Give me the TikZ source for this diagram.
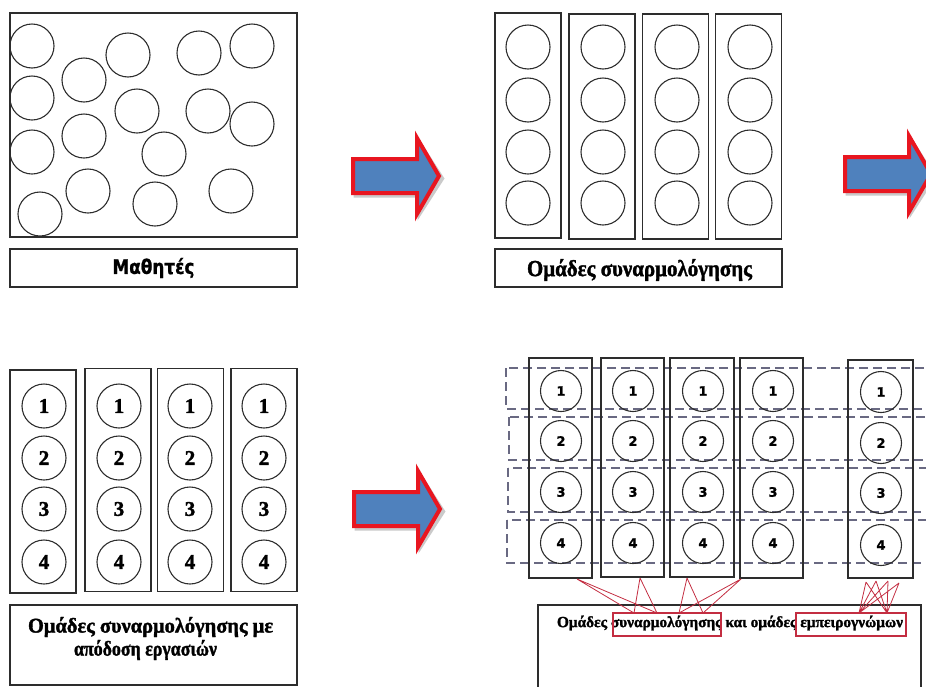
\documentclass[tikz,border=0pt]{standalone}
\usepackage{fontspec}
\usepackage{graphicx}
\newfontfamily\grsans{DejaVu Sans}[BoldFeatures={FakeBold=1.2}]
\newfontfamily\grserif{Liberation Serif}[BoldFeatures={FakeBold=1.6}]
\usetikzlibrary{calc}
\definecolor{linegray}{RGB}{45,45,45}
\definecolor{arrowred}{RGB}{232,22,32}
\definecolor{arrowblue}{RGB}{79,129,189}
\definecolor{dashblue}{RGB}{105,105,130}
\definecolor{linkred}{RGB}{195,45,65}
\begin{document}
\begin{tikzpicture}[x=1pt,y=-1pt,
  box/.style={draw=linegray, line width=1.3pt, inner sep=0pt},
  stud/.style={circle, draw=linegray, line width=1.1pt, minimum size=44pt, inner sep=0pt},
  smallstud/.style={circle, draw=linegray, line width=1.1pt, minimum size=41pt, inner sep=0pt},
  numserif/.style={font=\grserif\bfseries\fontsize{21}{21}\selectfont},
  numsans/.style={font=\grsans\bfseries\fontsize{13}{13}\selectfont},
  rowband/.style={draw=dashblue, line width=1.3pt, dash pattern=on 9pt off 5pt},
  link/.style={draw=linkred, line width=0.8pt},
  mark box/.style={draw=linkred, line width=1.1pt},
  bigarrow/.pic={
    \fill[black!35, opacity=0.6, shift={(2.5,2.5)}] (0,-19) -- (64,-19) -- (64,-42) -- (91,0) -- (64,42) -- (64,19) -- (0,19) -- cycle;
    \draw[draw=arrowred, fill=arrowblue, line width=4pt, line join=miter] (2,-17) -- (66,-17) -- (66,-38) -- (88,0) -- (66,38) -- (66,17) -- (2,17) -- cycle;
  }]
\useasboundingbox (0,0) rectangle (926,686);
\clip (0,0) rectangle (926,686);

% ---------- top-left panel ----------
\node[box, minimum width=287pt, minimum height=224pt] (tlbox) at (153.5,125) {};
\foreach \cx/\cy [count=\i] in {32/46,84/80,128/55,199/53,252/46,32/98,137/111,208/111,252/124,84/136,32/152,164/154,88/191,231/191,40/214,155/204}
  \node[stud] (tl\i) at (\cx,\cy) {};
\node[box, minimum width=287pt, minimum height=38pt] (tllabel) at (153.5,268) {};
\node (tltext) at (153.5,268) {\resizebox{82pt}{\height}{\grsans\bfseries\fontsize{20}{20}\selectfont Μαθητές}};

% ---------- arrows ----------
\pic (arrowA) at (351,176) {bigarrow};
\pic (arrowB) at (843,174) {bigarrow};
\pic (arrowC) at (352,509) {bigarrow};

% ---------- top-middle panel ----------
\foreach \cx/\cy/\j in {528/125.5/1,602/126.5/2,675.5/126.5/3,748.5/126.5/4}
  \node[box, minimum width=66pt, minimum height=225pt] (tmcol\j) at (\cx,\cy) {};
\foreach \cx [count=\j] in {528,603,677,750}
  \foreach \cy [count=\k] in {47,100,152,203}
    \node[stud] (tm\j-\k) at (\cx,\cy) {};
\node[box, minimum width=287pt, minimum height=38pt] (tmlabel) at (638.5,268) {};
\node (tmtext) at (639.5,270) {\resizebox{225pt}{\height}{\grserif\bfseries\fontsize{23}{23}\selectfont Ομάδες συναρμολόγησης}};

% ---------- bottom-left panel ----------
\foreach \cx/\cy/\j in {43/481.5/1,118/480/2,190.5/480/3,264/480/4}
  \node[box, minimum width=66pt, minimum height=223pt] (blcol\j) at (\cx,\cy) {};
\foreach \cx [count=\j] in {44,119,190,264}
  \foreach \cy [count=\k] in {406,458,509,562}
    \node[stud, numserif] (bl\j-\k) at (\cx,\cy) {\k};
\node[box, minimum width=287pt, minimum height=80pt] (bllabel) at (153.5,645) {};
\node (bltextA) at (150.5,627) {\resizebox{245pt}{\height}{\grserif\bfseries\fontsize{21}{21}\selectfont Ομάδες συναρμολόγησης με}};
\node (bltextB) at (145.5,650) {\resizebox{143pt}{\height}{\grserif\bfseries\fontsize{21}{21}\selectfont απόδοση εργασιών}};

% ---------- bottom-right panel ----------
\draw[rowband] (506,368) rectangle (940,409);
\draw[rowband] (509,417) rectangle (940,460);
\draw[rowband] (508,468) rectangle (940,512);
\draw[rowband] (507,520) rectangle (940,563);
\foreach \cx/\cy/\w/\h/\j in {560.5/468/63/220/1,632.5/467.5/63/219/2,702/467.5/64/219/3,771.5/468/63/220/4,880.5/469/65/218/5}
  \node[box, minimum width=\w pt, minimum height=\h pt] (brcol\j) at (\cx,\cy) {};
\foreach \cx [count=\j] in {561,633,703,773}
  \foreach \cy [count=\k] in {391,441,492,543}
    \node[smallstud, numsans] (br\j-\k) at (\cx,\cy) {\k};
\foreach \cy [count=\k] in {392,443,493,545}
  \node[smallstud, numsans] (br5-\k) at (881,\cy) {\k};

\draw[box] (538,700) -- (538,605) -- (921,605) -- (921,700);
\node (brtext) at (730,623) {\resizebox{346pt}{\height}{\grserif\bfseries\fontsize{15.5}{15.5}\selectfont Ομάδες συναρμολόγησης και ομάδες εμπειρογνώμων}};
\draw[mark box] (613,613) rectangle (721,636);
\draw[mark box] (796,613) rectangle (906,636);

% link points
\coordinate (s1) at (577,579);
\coordinate (s2) at (640,578);
\coordinate (s3) at (687,578);
\coordinate (s4) at (741,579);
\coordinate (t1) at (634,613);
\coordinate (t2) at (657,613);
\coordinate (t3) at (679,613);
\coordinate (t4) at (703,613);
\coordinate (u1) at (866,582);
\coordinate (u2) at (876,581);
\coordinate (u3) at (888,581);
\coordinate (u4) at (899,583);
\coordinate (v1) at (859,613);
\coordinate (v2) at (887,613);
\draw[link] (s1) -- (t1) (s1) -- (t2) (s2) -- (t1) (s2) -- (t2)
            (s3) -- (t3) (s3) -- (t4) (s4) -- (t3) (s4) -- (t4);
\draw[link] (u1) -- (v1) (u1) -- (v2) (u2) -- (v1) (u2) -- (v2)
            (u3) -- (v1) (u3) -- (v2) (u4) -- (v1) (u4) -- (v2);
\end{tikzpicture}
\end{document}
